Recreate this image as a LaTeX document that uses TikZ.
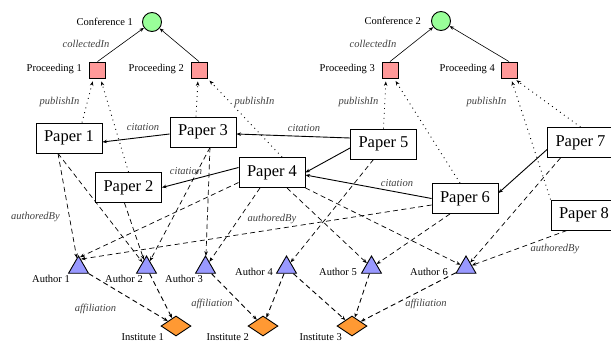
\documentclass[tikz,border=0pt]{standalone}
\usepackage{fontspec}
\setmainfont{Liberation Serif}
\usetikzlibrary{shapes.geometric,arrows.meta}
\definecolor{confgreen}{RGB}{153,255,153}
\definecolor{procpink}{RGB}{255,153,153}
\definecolor{authblue}{RGB}{153,153,255}
\definecolor{instorange}{RGB}{255,153,51}
\begin{document}
\begin{tikzpicture}[x=1pt,y=-1pt,
  papernode/.style={draw,line width=0.9pt,minimum width=66pt,minimum height=30pt,inner sep=0pt,font=\fontsize{16.5}{18}\selectfont},
  confnode/.style={circle,draw,line width=0.9pt,fill=confgreen,minimum size=19pt,inner sep=0pt},
  procnode/.style={rectangle,draw,line width=0.9pt,fill=procpink,minimum size=16pt,inner sep=0pt},
  authnode/.style={regular polygon,regular polygon sides=3,draw,line width=0.9pt,fill=authblue,minimum size=23pt,inner sep=0pt},
  instnode/.style={diamond,draw,line width=0.9pt,fill=instorange,minimum width=30pt,minimum height=20pt,inner sep=0pt,aspect=1.5},
  labtext/.style={font=\fontsize{10.5}{12}\selectfont,inner sep=0pt,text height=7pt,text depth=0pt},
  reltext/.style={font=\fontsize{10.5}{12}\selectfont\itshape,inner sep=0pt,text height=7pt,text depth=0pt,text=black!75},
  arrowhd/.style={-{Stealth[length=4.5pt,width=3.5pt]}},
  collect/.style={arrowhd,line width=0.6pt},
  citeedge/.style={arrowhd,line width=0.9pt},
  pubedge/.style={arrowhd,line width=0.9pt,dash pattern=on 0.9pt off 4pt,shorten >=3pt},
  authedge/.style={arrowhd,line width=0.7pt,dash pattern=on 5pt off 3.5pt},
  affedge/.style={arrowhd,line width=0.9pt,dash pattern=on 5pt off 3.5pt}
]
\useasboundingbox (0,0) rectangle (611,343);
\clip (0,0) rectangle (611,343);

% conferences and proceedings
\node[confnode] (conf1) at (152,22) {};
\node[confnode] (conf2) at (441,21) {};
\node[procnode] (proc1) at (97.5,70) {};
\node[procnode] (proc2) at (199,70) {};
\node[procnode] (proc3) at (390,70) {};
\node[procnode] (proc4) at (509,70) {};

% papers
\node[papernode] (paper1) at (69,138) {Paper 1};
\node[papernode] (paper2) at (128.5,187.5) {Paper 2};
\node[papernode] (paper3) at (203,132) {Paper 3};
\node[papernode] (paper4) at (272,172.5) {Paper 4};
\node[papernode] (paper5) at (383.5,144) {Paper 5};
\node[papernode] (paper6) at (465,198.5) {Paper 6};
\node[papernode] (paper7) at (580.5,142.5) {Paper 7};
\node[papernode] (paper8) at (584,215) {Paper 8};

% authors
\node[authnode] (author1) at (78.5,267.5) {};
\node[authnode] (author2) at (146.5,267.5) {};
\node[authnode] (author3) at (205.5,267.5) {};
\node[authnode] (author4) at (286.5,267.5) {};
\node[authnode] (author5) at (371.5,267.5) {};
\node[authnode] (author6) at (466,267.5) {};

% institutes
\node[instnode] (inst1) at (176,326) {};
\node[instnode] (inst2) at (263,326) {};
\node[instnode] (inst3) at (352,326) {};

% node labels
\node[labtext,anchor=east] (lconf1) at (133,22) {Conference 1};
\node[labtext,anchor=east] (lconf2) at (421,21) {Conference 2};
\node[labtext,anchor=east] (lproc1) at (82,68) {Proceeding 1};
\node[labtext,anchor=east] (lproc2) at (184,68) {Proceeding 2};
\node[labtext,anchor=east] (lproc3) at (375,68) {Proceeding 3};
\node[labtext,anchor=east] (lproc4) at (495,68) {Proceeding 4};
\node[labtext,anchor=east] (lauth1) at (70,279) {Author 1};
\node[labtext,anchor=east] (lauth2) at (143,279) {Author 2};
\node[labtext,anchor=east] (lauth3) at (203,279) {Author 3};
\node[labtext,anchor=east] (lauth4) at (273,272) {Author 4};
\node[labtext,anchor=east] (lauth5) at (357,272) {Author 5};
\node[labtext,anchor=east] (lauth6) at (448,272) {Author 6};
\node[labtext,anchor=east] (linst1) at (164,337) {Institute 1};
\node[labtext,anchor=east] (linst2) at (249,337) {Institute 2};
\node[labtext,anchor=east] (linst3) at (342,337) {Institute 3};

% collectedIn
\draw[collect] (proc1.north) -- (conf1);
\draw[collect] (proc2.north) -- (conf1);
\draw[collect] (proc3.north) -- (conf2);
\draw[collect] (proc4.north) -- (conf2);

% publishIn
\draw[pubedge] ([xshift=13pt]paper1.north) -- ([xshift=-4pt]proc1.south);
\draw[pubedge] (paper2.north) -- ([xshift=3pt]proc1.south);
\draw[pubedge] ([xshift=-7pt]paper3.north) -- ([xshift=-1pt]proc2.south);
\draw[pubedge] ([xshift=10pt]paper4.north) -- (proc2.south east);
\draw[pubedge] (paper5.north) -- ([xshift=-4pt]proc3.south);
\draw[pubedge] ([xshift=-5pt]paper6.north) -- ([xshift=4pt]proc3.south);
\draw[pubedge] (paper8.north west) -- ([xshift=2pt]proc4.south);
\draw[pubedge] (paper7.north) -- ([xshift=5pt]proc4.south);

% citation
\draw[citeedge] ([yshift=-2pt]paper3.west) -- ([yshift=-4pt]paper1.east);
\draw[citeedge] ([yshift=6pt]paper5.west) -- ([yshift=-2pt]paper3.east);
\draw[citeedge] ([yshift=5pt]paper4.west) -- (paper2.east);
\draw[citeedge] ([yshift=-4pt]paper5.west) -- (paper4.east);
\draw[citeedge] (paper6.west) -- ([yshift=-2.5pt]paper4.east);
\draw[citeedge] ([yshift=-7pt]paper7.west) -- ([yshift=5.5pt]paper6.east);

% authoredBy
\draw[authedge] ([xshift=-11pt]paper1.south) -- (author1);
\draw[authedge] ([xshift=-11pt]paper1.south) -- (author2);
\draw[authedge] ([xshift=-4pt]paper2.south) -- (author2);
\draw[authedge] ([xshift=7pt]paper3.south) -- (author2);
\draw[authedge] ([xshift=7pt]paper3.south) -- (author3);
\draw[authedge] ([yshift=-10pt]paper4.west) -- ([shift={(1.5pt,-2pt)}]author1.north);
\draw[authedge] ([xshift=-12pt]paper4.south) -- (author3);
\draw[authedge] ([xshift=15pt]paper4.south) -- (author5);
\draw[authedge] (paper4.south east) -- (author6);
\draw[authedge] ([xshift=-10pt]paper5.south) -- (author4);
\draw[authedge] ([yshift=-6.5pt]paper6.west) -- ([shift={(2.5pt,-4pt)}]author1.north);
\draw[authedge] ([xshift=-15pt]paper6.south) -- (author5);
\draw[authedge] ([xshift=-20pt]paper7.south) -- (author6);
\draw[authedge] ([xshift=-17pt]paper8.south) -- (author6);

% affiliation
\draw[affedge] (author1) -- (inst1);
\draw[affedge] (author2) -- (inst1);
\draw[affedge] (author3) -- (inst2);
\draw[affedge] (author4) -- (inst2);
\draw[affedge] (author4) -- (inst3);
\draw[affedge] (author5) -- (inst3);
\draw[affedge] (author6) -- (inst3);

% relation labels
\node[reltext] (rcoll1) at (86,44) {collectedIn};
\node[reltext] (rcoll2) at (373,44) {collectedIn};
\node[reltext] (rpub1) at (59.5,101) {publishIn};
\node[reltext] (rpub2) at (254.5,101) {publishIn};
\node[reltext] (rpub3) at (358.5,101) {publishIn};
\node[reltext] (rpub4) at (486.5,101) {publishIn};
\node[reltext] (rcite1) at (143,127) {citation};
\node[reltext] (rcite2) at (304,128) {citation};
\node[reltext] (rcite3) at (186,171) {citation};
\node[reltext] (rcite4) at (397,183) {citation};
\node[reltext] (rauth1) at (35.5,216) {authoredBy};
\node[reltext] (rauth2) at (272,218) {authoredBy};
\node[reltext] (rauth3) at (555,248) {authoredBy};
\node[reltext] (raff1) at (95.5,308) {affiliation};
\node[reltext] (raff2) at (212,303) {affiliation};
\node[reltext] (raff3) at (426,303) {affiliation};
\end{tikzpicture}
\end{document}
